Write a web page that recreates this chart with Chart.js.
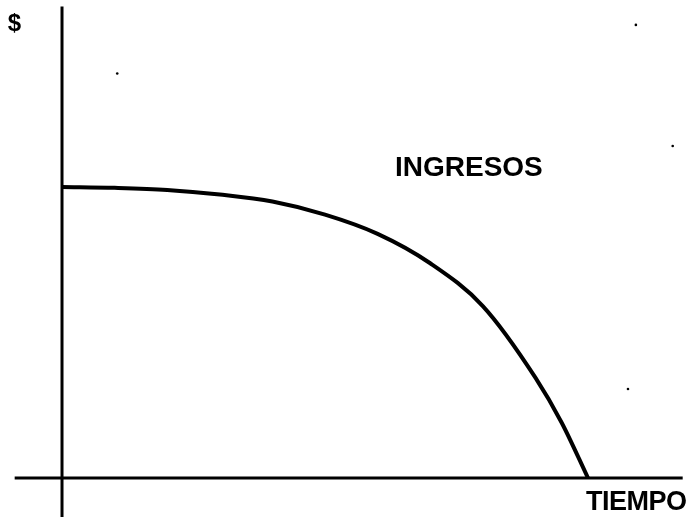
<!DOCTYPE html>
<html>
<head>
<meta charset="utf-8">
<script src="https://cdn.jsdelivr.net/npm/chart.js@4"></script>
<style>
  html, body { margin: 0; padding: 0; background: #fff; }
  #wrap { width: 692px; height: 520px; }
</style>
</head>
<body>
<div id="wrap"><canvas id="chart"></canvas></div>
<script>
// curva de ingresos (tiempo vs $)
const tiempo = [0, 1, 2, 3, 4, 5, 6, 7, 8, 9, 9.5, 10];
const ingresos = [100, 99.7, 99, 97.4, 95, 90.5, 83.9, 73.8, 59.1, 34.5, 19, 0];

// extremos de los ejes dibujados
const ejeX = [-0.9, 11.8];
const ejeY = [-13.4, 162];

// puntitos sueltos del escaneo
const manchasX = [1.05, 10.91, 11.61, 10.76];
const manchasY = [139, 155.7, 114.1, 30.6];

const labels = { y: '$', serie: 'INGRESOS', x: 'TIEMPO' };

const ctx = document.getElementById('chart').getContext('2d');

const textos = {
  id: 'textos',
  afterDatasetsDraw(chart) {
    const c = chart.ctx;
    const sx = chart.scales.x, sy = chart.scales.y;
    c.save();
    c.fillStyle = '#000';
    c.textBaseline = 'middle';
    c.textAlign = 'left';
    c.font = 'bold 24px "Liberation Sans", Arial, sans-serif';
    c.fillText(labels.y, sx.getPixelForValue(-1.03), sy.getPixelForValue(156));
    c.font = 'bold 28px "Liberation Sans", Arial, sans-serif';
    c.fillText(labels.serie, sx.getPixelForValue(6.33), sy.getPixelForValue(106.5));
    c.font = 'bold 27px "Liberation Sans", Arial, sans-serif';
    c.letterSpacing = '-0.5px';
    c.fillText(labels.x, sx.getPixelForValue(9.96), sy.getPixelForValue(-8.3));
    c.restore();
  }
};

new Chart(ctx, {
  type: 'scatter',
  data: {
    datasets: [
      {
        data: [{ x: ejeX[0], y: 0 }, { x: ejeX[1], y: 0 }],
        showLine: true, borderColor: '#000', borderWidth: 3, pointRadius: 0
      },
      {
        data: [{ x: 0, y: ejeY[0] }, { x: 0, y: ejeY[1] }],
        showLine: true, borderColor: '#000', borderWidth: 3, pointRadius: 0
      },
      {
        data: tiempo.map((t, i) => ({ x: t, y: ingresos[i] })),
        showLine: true, borderColor: '#000', borderWidth: 4, pointRadius: 0,
        cubicInterpolationMode: 'monotone'
      },
      {
        data: manchasX.map((t, i) => ({ x: t, y: manchasY[i] })),
        showLine: false, pointRadius: 1.3, pointBackgroundColor: '#000',
        pointBorderWidth: 0
      }
    ]
  },
  options: {
    responsive: true,
    maintainAspectRatio: false,
    animation: false,
    layout: { padding: 0, autoPadding: false },
    plugins: { legend: { display: false }, tooltip: { enabled: false } },
    scales: {
      x: { type: 'linear', display: false, min: -1.179, max: 11.977 },
      y: { type: 'linear', display: false, min: -14.43, max: 164.26 }
    }
  },
  plugins: [textos]
});
</script>
</body>
</html>
